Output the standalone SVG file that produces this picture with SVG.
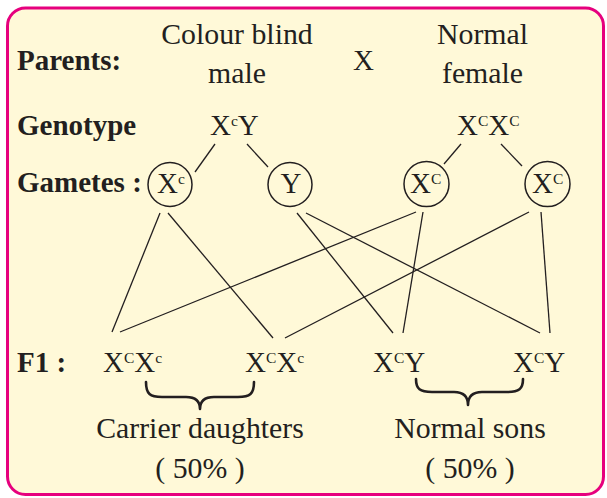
<svg xmlns="http://www.w3.org/2000/svg" width="607" height="498" viewBox="0 0 607 498">
<style>
text{font-family:'Liberation Serif','Times New Roman',Tinos,serif;fill:#231f20;font-size:29px}
.b{font-weight:bold}
.m{text-anchor:middle}
.w{font-size:29.8px}
.s{font-size:15.5px}
.ln{stroke:#231f20;stroke-width:1.3;fill:none}
.c{stroke:#231f20;stroke-width:1.5;fill:none}
.br{stroke:#231f20;stroke-width:2.6;fill:none;stroke-linecap:round;stroke-linejoin:round}
</style>
<rect width="607" height="498" fill="#ffffff"/>
<rect x="7.5" y="8" width="596" height="486.5" rx="18" fill="#fff9d8" stroke="#e6007e" stroke-width="3"/>
<g id="labels">
<text class="b" x="17" y="70">Parents:</text>
<text class="b" x="17" y="135">Genotype</text>
<text class="b" x="17" y="192">Gametes :</text>
<text class="b" x="17" y="372">F1 :</text>
</g>
<g id="male">
<text class="m w" x="237" y="44">Colour blind</text>
<text class="m w" x="237" y="83">male</text>
</g>
<g id="cross"><text x="353" y="70">X</text></g>
<g id="female">
<text class="m w" x="482.5" y="44">Normal</text>
<text class="m w" x="482.5" y="83">female</text>
</g>
<g id="male-genotype"><text x="210" y="135">X<tspan class="s" dy="-9.5">c</tspan><tspan dy="9.5">Y</tspan></text></g>
<g id="female-genotype"><text x="457" y="135">X<tspan class="s" dy="-9.5">C</tspan><tspan dy="9.5">X</tspan><tspan class="s" dy="-9.5">C</tspan></text></g>
<g id="gamete-xc">
<circle class="c" cx="170" cy="184.5" r="22"/>
<text x="157" y="193">X<tspan class="s" dy="-9.5">c</tspan></text>
</g>
<g id="gamete-y">
<circle class="c" cx="290" cy="184.5" r="22"/>
<text class="m" x="291" y="193">Y</text>
</g>
<g id="gamete-XC1">
<circle class="c" cx="426.5" cy="184" r="22.5"/>
<text x="410" y="193">X<tspan class="s" dy="-9.5">C</tspan></text>
</g>
<g id="gamete-XC2">
<circle class="c" cx="547.5" cy="184" r="22.5"/>
<text x="532" y="193">X<tspan class="s" dy="-9.5">C</tspan></text>
</g>
<g id="f1-1"><text x="103" y="372">X<tspan class="s" dy="-9.5">C</tspan><tspan dy="9.5">X</tspan><tspan class="s" dy="-9.5">c</tspan></text></g>
<g id="f1-2"><text x="245" y="372">X<tspan class="s" dy="-9.5">C</tspan><tspan dy="9.5">X</tspan><tspan class="s" dy="-9.5">c</tspan></text></g>
<g id="f1-3"><text x="373" y="372">X<tspan class="s" dy="-9.5">C</tspan><tspan dy="9.5">Y</tspan></text></g>
<g id="f1-4"><text x="513" y="372">X<tspan class="s" dy="-9.5">C</tspan><tspan dy="9.5">Y</tspan></text></g>
<g id="daughters">
<path class="br" d="M146,382 C146,394 150,397 162,397 L186,397 C196,397 200,401 200,409 C200,401 204,397 214,397 L238,397 C250,397 254,394 254,382"/>
<text class="m w" x="200" y="438">Carrier daughters</text>
<text class="m w" x="200" y="478">( 50% )</text>
</g>
<g id="sons">
<path class="br" d="M416,379 C416,389 420,392 432,392 L454,392 C464,392 468,397 468,405 C468,397 472,392 482,392 L507,392 C519,392 523,389 523,379"/>
<text class="m w" x="470" y="438">Normal sons</text>
<text class="m w" x="470" y="478">( 50% )</text>
</g>
<g id="connectors">
<line class="ln" x1="215" y1="144" x2="195" y2="172"/>
<line class="ln" x1="247" y1="144" x2="268" y2="167"/>
<line class="ln" x1="461" y1="144" x2="444" y2="164"/>
<line class="ln" x1="501" y1="144" x2="522" y2="166"/>
<line class="ln" x1="160" y1="213" x2="112" y2="332"/>
<line class="ln" x1="168" y1="213" x2="273" y2="338"/>
<line class="ln" x1="297" y1="213" x2="393" y2="333"/>
<line class="ln" x1="306" y1="213" x2="540" y2="333"/>
<line class="ln" x1="416" y1="212" x2="120" y2="332"/>
<line class="ln" x1="423" y1="212" x2="403" y2="333"/>
<line class="ln" x1="529" y1="212" x2="285" y2="338"/>
<line class="ln" x1="541" y1="212" x2="550" y2="333"/>
</g>
</svg>
